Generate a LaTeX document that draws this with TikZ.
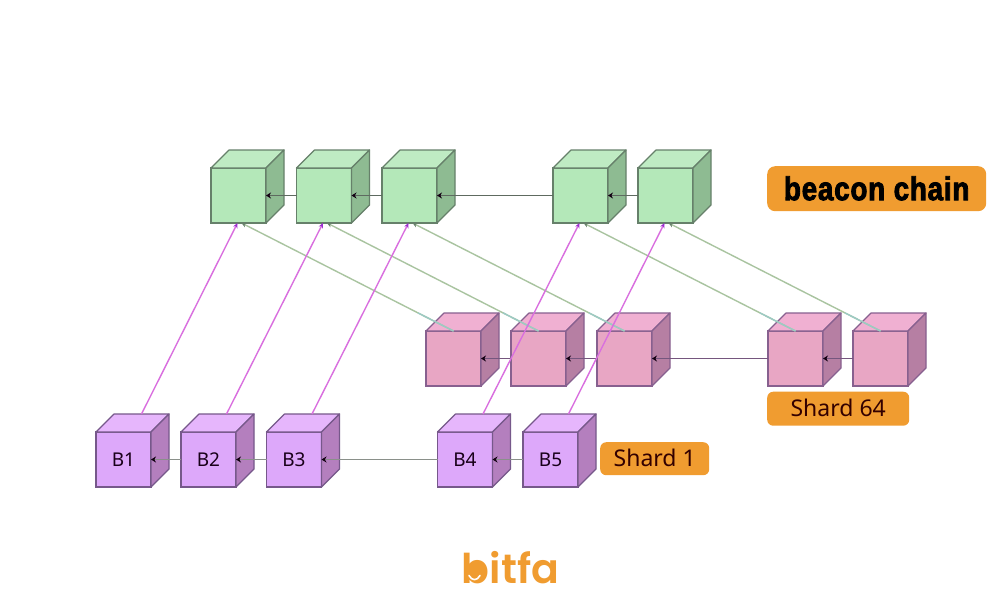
\documentclass[tikz,border=0pt]{standalone}
\usepackage{fontspec}
\setmainfont{Noto Sans}
\newfontfamily\beaconfont[FakeStretch=0.84,FakeBold=2.5,LetterSpace=2.5]{Liberation Sans Bold}
\newfontfamily\logofont{Poppins SemiBold}
\usetikzlibrary{arrows.meta,calc}
\definecolor{badge}{HTML}{F09C30}
\definecolor{gF}{HTML}{B4E8B9}\definecolor{gT}{HTML}{BFEBC3}\definecolor{gS}{HTML}{8EBB92}\definecolor{gL}{HTML}{66806A}
\definecolor{pF}{HTML}{E8A6C4}\definecolor{pT}{HTML}{F0B0D2}\definecolor{pS}{HTML}{B67FA3}\definecolor{pL}{HTML}{87608F}
\definecolor{vF}{HTML}{DDA8FA}\definecolor{vT}{HTML}{E6B6FC}\definecolor{vS}{HTML}{B47FBE}\definecolor{vL}{HTML}{76588A}
\definecolor{upline}{HTML}{D96FDF}\definecolor{upline2}{HTML}{9C2FD0}
\definecolor{backline}{HTML}{A9C4A0}\definecolor{backtop}{HTML}{9CCAC4}
\definecolor{chainG}{HTML}{5E6A60}\definecolor{chainP}{HTML}{75567E}\definecolor{chainV}{HTML}{8A908A}
\tikzset{
  cubeface/.style={draw,line width=1.2pt,minimum size=55pt,inner sep=0pt,outer sep=0pt,anchor=north west,font=\fontsize{19}{22}\selectfont,text=black!80!violet},
  chainlink/.style={line width=1.7pt,-{Stealth[length=5pt,width=6pt,color=black!85!violet]}},
  uplink/.style={upline,line width=1.4pt,-{Stealth[length=5pt,width=4.5pt,color=upline2]}},
  backlink/.style={backline,line width=1.4pt,-{Stealth[length=5pt,width=4.5pt,color=gL]}},
  badgebox/.style={fill=badge,rounded corners=6pt,inner sep=0pt,text=black!80!red,anchor=north west}
}
\newcommand{\cubeat}[5]{%
  \node[cubeface,draw=#4L,fill=#4F] (#1) at (#2,#3) {#5};
  \draw[#4L,line width=1.2pt,line join=round,fill=#4T] (#1.north west) -- ++(18,-18) -- ++(55,0) -- (#1.north east) -- cycle;
  \draw[#4L,line width=1.2pt,line join=round,fill=#4S] (#1.north east) -- ++(18,-18) -- ++(0,55) -- (#1.south east) -- cycle;
  \coordinate (#1-back) at ($(#1.north)+(18,-18)$);
}
\newcommand{\backto}[2]{%
  \draw[backlink] (#1.north) -- ([xshift=3pt]#2.south);
  \draw[backtop,line width=1.4pt] (#1.north) -- ($(#1.north)!0.168!([xshift=3pt]#2.south)$);
}
\begin{document}
\begin{tikzpicture}[x=1pt,y=-1pt]
\useasboundingbox (0,0) rectangle (1000,600);
\fill[white] (0,0) rectangle (1000,600);
% beacon chain
\cubeat{c1}{211}{168}{g}{}
\cubeat{c2}{296.5}{168}{g}{}
\cubeat{c3}{382}{168}{g}{}
\cubeat{c4}{553}{168}{g}{}
\cubeat{c5}{638}{168}{g}{}
% shard 64
\cubeat{p1}{426}{331}{p}{}
\cubeat{p2}{511}{331}{p}{}
\cubeat{p3}{597}{331}{p}{}
\cubeat{p4}{768}{331}{p}{}
\cubeat{p5}{853}{331}{p}{}
% shard 1
\cubeat{b1}{96}{432}{v}{B1}
\cubeat{b2}{181}{432}{v}{B2}
\cubeat{b3}{266.5}{432}{v}{B3}
\cubeat{b4}{437.5}{432}{v}{B4}
\cubeat{b5}{523}{432}{v}{B5}
% chains
\foreach \l/\r in {c1/c2,c2/c3,c3/c4,c4/c5}
  \draw[chainlink,chainG] (\r.west) -- (\l.east);
\foreach \l/\r in {p1/p2,p2/p3,p3/p4,p4/p5}
  \draw[chainlink,chainP] (\r.west) -- (\l.east);
\foreach \l/\r in {b1/b2,b2/b3,b3/b4,b4/b5}
  \draw[chainlink,chainV] (\r.west) -- (\l.east);
% shard 64 to beacon
\backto{p1}{c1}
\backto{p2}{c2}
\backto{p3}{c3}
\backto{p4}{c4}
\backto{p5}{c5}
% shard 1 to beacon
\foreach \n in {1,...,5}
  \draw[uplink] (b\n-back) -- ([xshift=-1pt]c\n.south);
% badges
\node[badgebox,minimum width=219pt,minimum height=45pt,rounded corners=8pt,font=\beaconfont\fontsize{33}{36}\selectfont,text=black] (beacon) at (767,166) {\raisebox{1pt}{beacon chain}};
\node[badgebox,minimum width=142pt,minimum height=34pt,font=\fontsize{23}{26}\selectfont] (s64) at (767,391.5) {\raisebox{1.5pt}{Shard 64}};
\node[badgebox,minimum width=109pt,minimum height=33pt,font=\fontsize{23}{26}\selectfont] (s1) at (600,442) {\raisebox{1.5pt}{Shard 1}};
% logo
\node[inner sep=0pt,text=badge,font=\logofont\fontsize{41}{44}\selectfont,anchor=base] (logo) at (510.5,583) {bitfa};
\fill[badge] (475.5,572) circle (8.5pt);
\draw[white,line width=1.6pt,line cap=round] (469,575.5) .. controls (472,581) and (477,581) .. (480,575.5);
\end{tikzpicture}
\end{document}
